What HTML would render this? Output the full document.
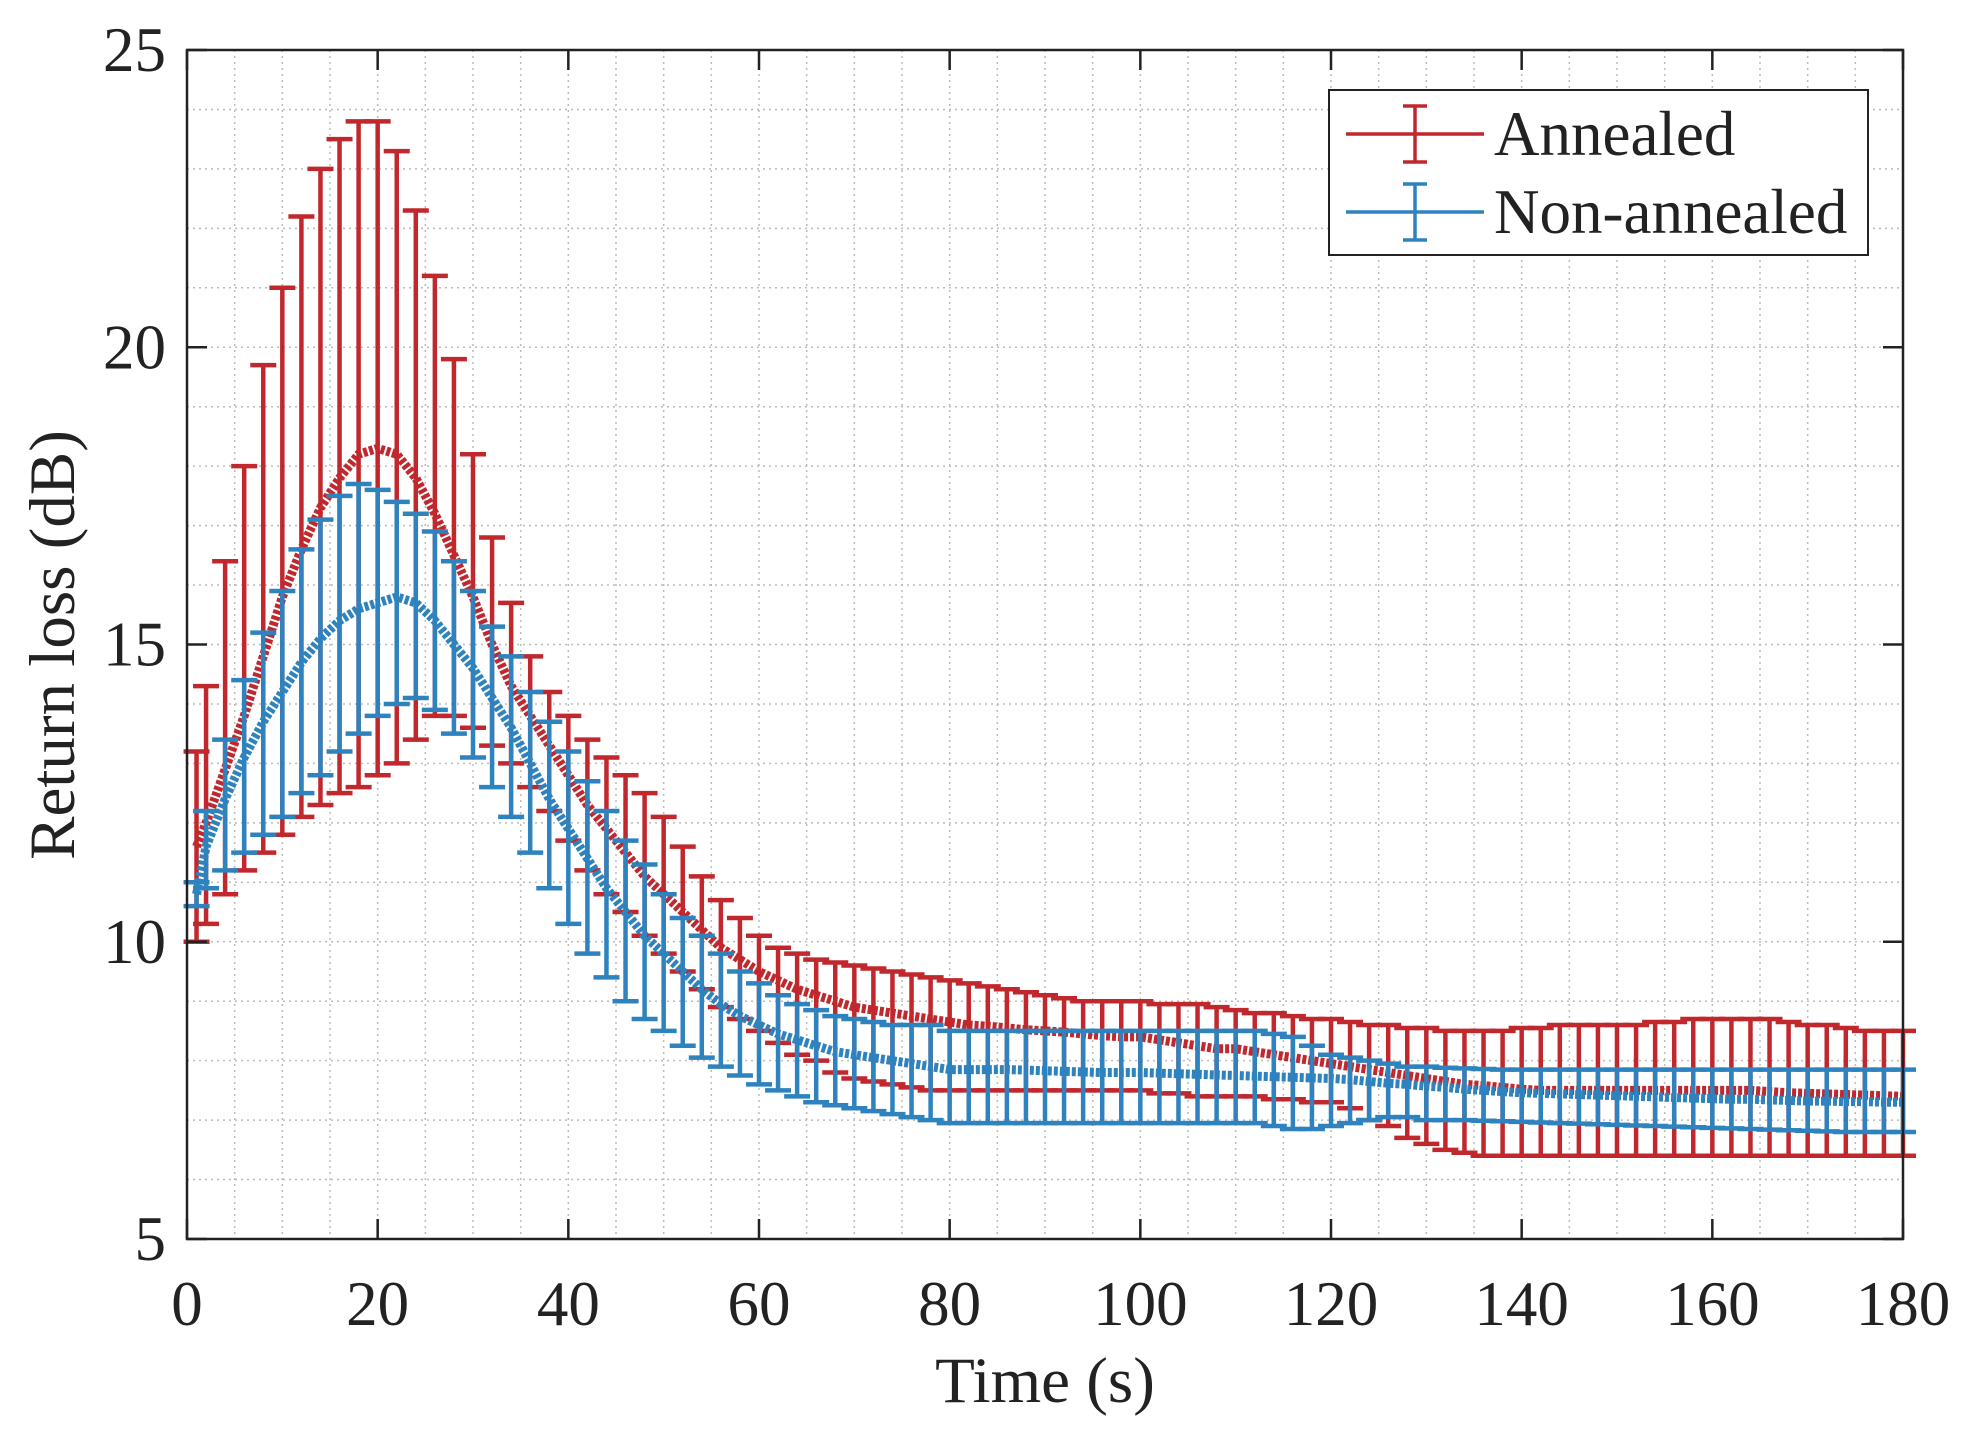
<!DOCTYPE html>
<html><head><meta charset="utf-8"><style>
body{margin:0;background:#fff}
svg{display:block}
text{font-family:"Liberation Serif",serif;fill:#222}
</style></head><body>
<svg id="c" width="1979" height="1434" viewBox="0 0 1979 1434"></svg>
<script>
const tStep=2;
const redMean=[11.6,12,12.9,13.8,14.8,15.8,16.6,17.3,17.8,18.2,18.3,18.2,17.8,17.2,16.5,15.8,15.0,14.3,13.8,13.3,12.8,12.3,11.9,11.5,11.1,10.8,10.5,10.2,9.9,9.7,9.5,9.35,9.2,9.1,9.0,8.9,8.85,8.8,8.75,8.7,8.65,8.6,8.58,8.55,8.52,8.5,8.48,8.45,8.42,8.4,8.4,8.35,8.3,8.25,8.2,8.2,8.15,8.1,8.05,8.0,7.95,7.9,7.85,7.8,7.75,7.7,7.65,7.6,7.58,7.55,7.52,7.5,7.5,7.5,7.5,7.5,7.5,7.5,7.5,7.5,7.5,7.5,7.5,7.48,7.46,7.45,7.44,7.43,7.42,7.41,7.4];
const redUp=[13.2,14.3,16.4,18,19.7,21,22.2,23,23.5,23.8,23.8,23.3,22.3,21.2,19.8,18.2,16.8,15.7,14.8,14.2,13.8,13.4,13.1,12.8,12.5,12.1,11.6,11.1,10.7,10.4,10.1,9.9,9.8,9.7,9.65,9.6,9.55,9.5,9.45,9.4,9.35,9.3,9.25,9.2,9.15,9.1,9.05,9.0,9.0,9.0,9.0,8.95,8.95,8.95,8.9,8.85,8.8,8.8,8.75,8.7,8.7,8.65,8.6,8.6,8.55,8.55,8.5,8.5,8.5,8.5,8.55,8.55,8.6,8.6,8.6,8.6,8.6,8.65,8.65,8.7,8.7,8.7,8.7,8.7,8.65,8.6,8.6,8.55,8.5,8.5,8.5];
const redLo=[10,10.3,10.8,11.2,11.5,11.8,12.1,12.3,12.5,12.6,12.8,13,13.4,13.8,13.8,13.6,13.3,13,12.6,12.2,11.7,11.2,10.8,10.5,10.1,9.8,9.5,9.2,8.9,8.7,8.5,8.3,8.1,8.0,7.8,7.7,7.65,7.6,7.55,7.5,7.5,7.5,7.5,7.5,7.5,7.5,7.5,7.5,7.5,7.5,7.5,7.45,7.45,7.4,7.4,7.4,7.4,7.35,7.35,7.3,7.3,7.2,7.0,6.9,6.7,6.6,6.5,6.45,6.4,6.4,6.4,6.4,6.4,6.4,6.4,6.4,6.4,6.4,6.4,6.4,6.4,6.4,6.4,6.4,6.4,6.4,6.4,6.4,6.4,6.4,6.4];
const blueMean=[10.8,11.6,12.4,13.1,13.7,14.2,14.7,15.1,15.4,15.6,15.7,15.8,15.7,15.4,15.0,14.6,14.1,13.6,13.0,12.4,11.9,11.4,10.9,10.5,10.1,9.8,9.5,9.2,8.95,8.75,8.6,8.45,8.35,8.25,8.15,8.1,8.05,8.0,7.95,7.9,7.85,7.85,7.85,7.85,7.84,7.83,7.82,7.81,7.8,7.8,7.8,7.79,7.78,7.77,7.76,7.75,7.74,7.73,7.72,7.71,7.7,7.68,7.65,7.62,7.6,7.57,7.55,7.52,7.5,7.48,7.46,7.45,7.44,7.43,7.42,7.41,7.4,7.39,7.38,7.37,7.36,7.35,7.35,7.34,7.33,7.32,7.32,7.31,7.31,7.3,7.3];
const blueUp=[11.0,12.2,13.4,14.4,15.2,15.9,16.6,17.1,17.5,17.7,17.6,17.4,17.2,16.9,16.4,15.9,15.3,14.8,14.2,13.7,13.2,12.7,12.2,11.7,11.3,10.8,10.4,10.1,9.8,9.5,9.3,9.1,8.95,8.85,8.75,8.7,8.65,8.6,8.6,8.6,8.5,8.5,8.5,8.5,8.5,8.5,8.5,8.5,8.5,8.5,8.5,8.5,8.5,8.5,8.5,8.5,8.5,8.45,8.4,8.25,8.1,8.05,8.0,7.95,7.9,7.9,7.88,7.87,7.86,7.85,7.85,7.85,7.85,7.85,7.85,7.85,7.85,7.85,7.85,7.85,7.85,7.85,7.85,7.85,7.85,7.85,7.85,7.85,7.85,7.85,7.85];
const blueLo=[10.6,10.9,11.2,11.5,11.8,12.1,12.5,12.8,13.2,13.5,13.8,14.0,14.1,13.9,13.5,13.1,12.6,12.1,11.5,10.9,10.3,9.8,9.4,9.0,8.7,8.5,8.25,8.05,7.9,7.75,7.6,7.5,7.4,7.3,7.25,7.2,7.15,7.1,7.05,7.0,6.95,6.95,6.95,6.95,6.95,6.95,6.95,6.95,6.95,6.95,6.95,6.95,6.95,6.95,6.95,6.95,6.95,6.9,6.85,6.85,6.9,6.95,7.0,7.05,7.05,7.0,7.0,7.0,6.99,6.98,6.97,6.96,6.95,6.94,6.93,6.92,6.91,6.9,6.89,6.88,6.87,6.86,6.85,6.84,6.83,6.82,6.81,6.8,6.8,6.8,6.8];
const xTicks=[0,20,40,60,80,100,120,140,160,180];
const yTicks=[5,10,15,20,25];

const L=187,R=1903,T=50,B=1239;
const X=v=>L+(v-0)/180*(R-L);
const Y=v=>B-(v-5)/20*(B-T);
const svg=document.getElementById('c');
const NS='http://www.w3.org/2000/svg';
function mk(tag,a,p){const e=document.createElementNS(NS,tag);for(const k in a)e.setAttribute(k,a[k]);(p||svg).appendChild(e);return e;}

const grid=mk('g',{});


for(let v=5;v<180;v+=5){mk('line',{x1:X(v),x2:X(v),y1:T,y2:B,stroke:'#bbb','stroke-width':1.5,'stroke-dasharray':'2 4'},grid);}
for(let v=6;v<25;v+=1){mk('line',{x1:L,x2:R,y1:Y(v),y2:Y(v),stroke:'#bbb','stroke-width':1.5,'stroke-dasharray':'2 4'},grid);}

function series(mean,up,lo,color,name){
  const g=mk('g',{});
  
  
  for(let i=0;i<mean.length;i++){
    const t=Math.max(1,i*tStep),x=X(t);
    mk('line',{x1:x,x2:x,y1:Y(up[i]),y2:Y(lo[i]),stroke:color,'stroke-width':4.5},g);
    mk('line',{x1:x-13,x2:x+13,y1:Y(up[i]),y2:Y(up[i]),stroke:color,'stroke-width':4.5},g);
    mk('line',{x1:x-13,x2:x+13,y1:Y(lo[i]),y2:Y(lo[i]),stroke:color,'stroke-width':4.5},g);
  }
  const d=mean.map((v,i)=>(i?'L':'M')+X(Math.max(1,i*tStep))+' '+Y(v)).join(' ');
  const p=mk('path',{d:d,fill:'none',stroke:color,'stroke-width':9,'stroke-dasharray':'4 2'},g);
  
  
}
series(redMean,redUp,redLo,'#c0282d','annealed-series');
series(blueMean,blueUp,blueLo,'#2e83bf','non-annealed-series');

const ax=mk('rect',{x:L,y:T,width:R-L,height:B-T,fill:'none',stroke:'#222','stroke-width':2.5});


xTicks.forEach(v=>{
  mk('line',{x1:X(v),x2:X(v),y1:B,y2:B-20,stroke:'#222','stroke-width':2.5});
  mk('line',{x1:X(v),x2:X(v),y1:T,y2:T+20,stroke:'#222','stroke-width':2.5});
  const t=mk('text',{x:X(v),y:1325,'font-size':63,'text-anchor':'middle'});t.textContent=v;
  
  
});
yTicks.forEach(v=>{
  mk('line',{x1:L,x2:L+20,y1:Y(v),y2:Y(v),stroke:'#222','stroke-width':2.5});
  mk('line',{x1:R,x2:R-20,y1:Y(v),y2:Y(v),stroke:'#222','stroke-width':2.5});
  const t=mk('text',{x:166,y:Y(v)+21,'font-size':63,'text-anchor':'end'});t.textContent=v;
  
  
});
const xt=mk('text',{x:1045,y:1402,'font-size':65,'text-anchor':'middle'});xt.textContent='Time (s)';


const yt=mk('text',{x:0,y:0,'font-size':65,'text-anchor':'middle',transform:'translate(74,645) rotate(-90)'});yt.textContent='Return loss (dB)';



const lg=mk('g',{});


mk('rect',{x:1329,y:90,width:539,height:165,fill:'#fff',stroke:'#222','stroke-width':2},lg);
[['Annealed','#c0282d',134],['Non-annealed','#2e83bf',212]].forEach(([n,c,y])=>{
  const e=mk('g',{},lg);
  
  
  mk('line',{x1:1346,x2:1484,y1:y,y2:y,stroke:c,'stroke-width':3.5},e);
  mk('line',{x1:1415,x2:1415,y1:y-28,y2:y+28,stroke:c,'stroke-width':3.5},e);
  mk('line',{x1:1403,x2:1427,y1:y-28,y2:y-28,stroke:c,'stroke-width':3.5},e);
  mk('line',{x1:1403,x2:1427,y1:y+28,y2:y+28,stroke:c,'stroke-width':3.5},e);
  const t=mk('text',{x:1494,y:y+21,'font-size':63},e);t.textContent=n;
});
</script>
</body></html>
